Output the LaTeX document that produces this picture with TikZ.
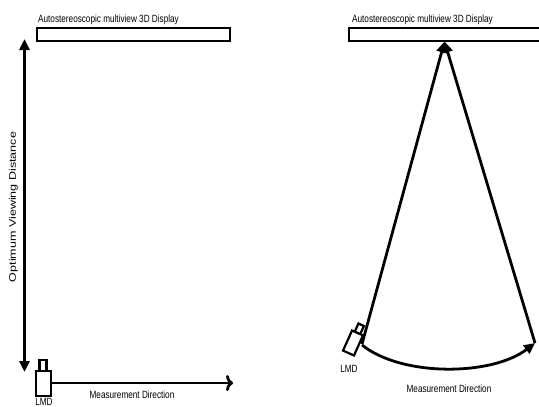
\documentclass[tikz,border=0pt]{standalone}
\usepackage{fontspec}
\setmainfont{Liberation Sans}
\newfontfamily\narrowfont[FakeStretch=0.78]{Liberation Sans}
\usetikzlibrary{arrows.meta}
\begin{document}
\begin{tikzpicture}[x=1pt,y=-1pt,
  thick line/.style={line width=2.8pt},
  lbl/.style={font=\narrowfont\fontsize{10.5}{11}\selectfont,inner sep=0pt},
  solidhead/.style={-{Triangle[length=11pt,width=10pt]}},
]
\useasboundingbox (0,0) rectangle (539,407);
% left display
\node[lbl,anchor=base west] (ltitle) at (38,22.5) {Autostereoscopic multiview 3D Display};
\draw[line width=2.2pt,fill=white] (37,28) rectangle (230,41);
% vertical double arrow
\coordinate (vtop) at (24.5,39);
\coordinate (vbot) at (24.5,372);
\draw[thick line,{Triangle[length=11pt,width=10pt]}-{Triangle[length=11pt,width=10pt]}] (vtop) -- (vbot);
\node[font=\fontsize{9.5}{10}\selectfont,rotate=90,inner sep=0pt] (ovd) at (13.5,207) {\scalebox{1.32}[1]{Optimum Viewing Distance}};
% left LMD
\draw[line width=2.2pt,fill=white] (39.5,360) rectangle (46.5,371);
\draw[line width=2.2pt,fill=white] (36,371) rectangle (51,396);
\node[lbl,anchor=base] (llmd) at (44,405.5) {LMD};
% horizontal arrow
\coordinate (hstart) at (51,383);
\coordinate (hend) at (233,383);
\draw[thick line,-{To[length=7pt,width=16pt,line width=2.8pt]}] (hstart) -- (hend);
\node[lbl,anchor=base] (lmd1) at (132,398) {Measurement Direction};
% right display
\node[lbl,anchor=base west] (rtitle) at (352,22.5) {Autostereoscopic multiview 3D Display};
\draw[line width=2.2pt,fill=white] (349,28) rectangle (545,41);
\coordinate (apex) at (444.5,41.5);
\coordinate (rl) at (362,344);
\coordinate (rr) at (535,343);
% right LMD
\begin{scope}[shift={(353,343)},rotate=-24]
\draw[line width=2.2pt,fill=white] (-3,-20) rectangle (3,-11);
\draw[line width=2.2pt,fill=white] (-6,-11) rectangle (6,11);
\end{scope}
\draw[thick line,solidhead] (rl) -- (apex);
\draw[thick line,solidhead] (rr) -- (apex);
% arc
\draw[thick line,-{Triangle[length=11pt,width=10pt]}] (362,345) .. controls (402,377) and (492,376) .. (rr);
\node[lbl,anchor=base] (rlmd) at (349,372) {LMD};
\node[lbl,anchor=base] (rmd) at (449,392) {Measurement Direction};
\end{tikzpicture}
\end{document}
